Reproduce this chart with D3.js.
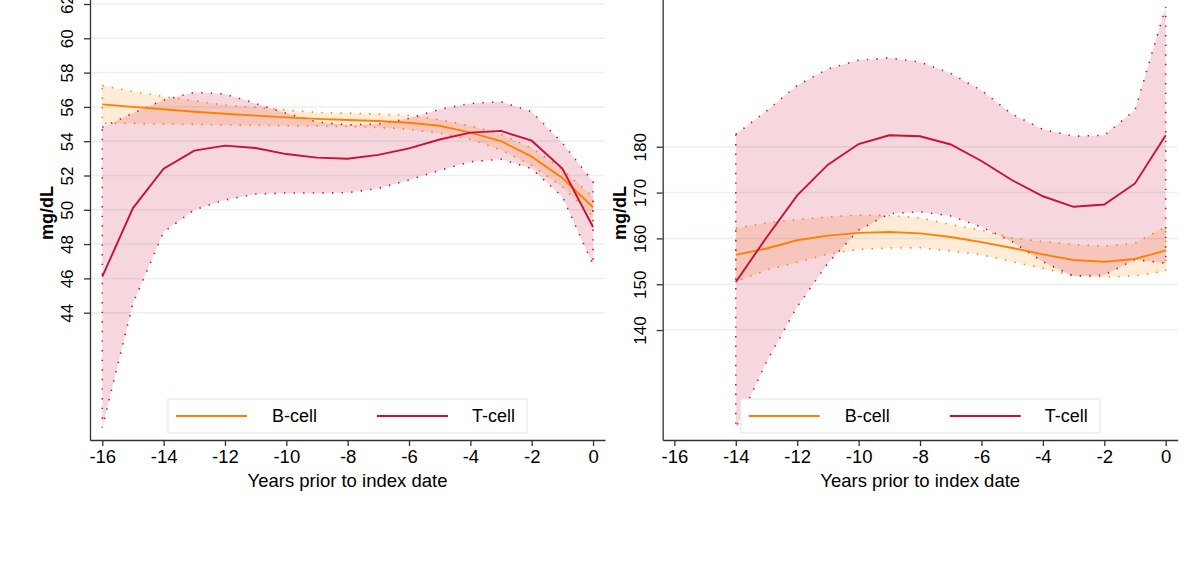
<!DOCTYPE html>
<html>
<head>
<meta charset="utf-8">
<script src="https://cdn.jsdelivr.net/npm/d3@7"></script>
<style>
  html, body { margin: 0; padding: 0; background: #fff; }
  svg { display: block; font-family: "Liberation Sans", Arial, sans-serif; }
</style>
</head>
<body>
<svg id="chart" width="1196" height="561"></svg>
<script>
// ---------- DATA ----------
const leftYears = [-16,-15,-14,-13,-12,-11,-10,-9,-8,-7,-6,-5,-4,-3,-2,-1,0];
const leftBMean = [56.15,56.0,55.86,55.72,55.6,55.49,55.39,55.3,55.24,55.18,55.08,54.9,54.5,54.0,53.1,51.85,50.15];
const leftBLow  = [55.04,55.04,55.0,54.98,54.95,54.93,54.9,54.88,54.86,54.8,54.7,54.46,54.11,53.49,52.6,51.35,49.6];
const leftBHigh = [57.24,56.89,56.6,56.36,56.1,55.98,55.82,55.68,55.63,55.58,55.5,55.25,54.9,54.4,53.6,52.35,50.75];
const leftTMean = [46.1,50.1,52.4,53.45,53.74,53.6,53.25,53.04,52.98,53.2,53.58,54.1,54.5,54.6,54.03,52.4,49.0];
const leftTLow  = [37.3,44.55,48.7,50.0,50.57,50.92,50.98,50.98,51.0,51.25,51.74,52.3,52.8,52.95,52.4,50.76,46.8];
const leftTHigh = [54.81,55.63,56.4,56.85,56.75,56.2,55.63,55.12,54.95,55.0,55.33,55.86,56.2,56.3,55.72,53.9,51.64];

const rightYears = [-14,-13,-12,-11,-10,-9,-8,-7,-6,-5,-4,-3,-2,-1,0];
const rightBMean = [156.4,157.8,159.6,160.6,161.2,161.4,161.1,160.3,159.2,157.9,156.5,155.3,154.9,155.5,157.4];
const rightBLow  = [150.6,153.1,154.8,156.6,157.6,157.9,157.95,157.3,156.4,154.9,153.5,151.8,151.6,151.8,152.9];
const rightBHigh = [162.2,163.4,164.1,164.7,165.1,165.0,164.5,163.0,161.8,160.1,159.3,158.7,158.3,159.0,162.5];
const rightTMean = [150.5,160.2,169.4,176.1,180.6,182.5,182.3,180.5,176.9,172.7,169.2,166.9,167.4,172.0,182.5];
const rightTLow  = [118.6,133.1,145.1,154.6,161.8,165.4,165.8,164.9,162.5,159.3,154.9,151.8,152.0,155.4,154.6];
const rightTHigh = [182.7,187.8,193.4,197.0,198.9,199.4,198.5,196.0,192.3,187.1,183.8,182.3,182.5,188.0,210.5];

const xTicks = [-16,-14,-12,-10,-8,-6,-4,-2,0];
const leftYTicks = [44,46,48,50,52,54,56,58,60,62];
const rightYTicks = [140,150,160,170,180];
const seriesNames = ["B-cell","T-cell"];
const xTitle = "Years prior to index date";
const yTitle = "mg/dL";

// ---------- STYLE ----------
const ORANGE = "#ff8000";
const RED = "#c8103c";
const GRID = "#e8f0f2";
const AXIS = "#333";
const FONT = 18.5;
const YFONT = 17;
const FAM = "Liberation Sans, Arial, sans-serif";

const svg = d3.select("#chart");

function panel(cfg) {
  const g = svg.append("g");
  const x = d3.scaleLinear().domain(cfg.xDomain).range([cfg.x0, cfg.x1]);
  const y = d3.scaleLinear().domain(cfg.yDomain).range([440, -20]);

  // gridlines
  g.append("g").selectAll("line").data(cfg.yTicks).join("line")
    .attr("x1", cfg.x0).attr("x2", cfg.x1)
    .attr("y1", d => y(d)).attr("y2", d => y(d))
    .attr("stroke", GRID).attr("stroke-width", 1.5);

  const rows = (years, lo, hi, m) => years.map((yr, i) => ({yr, lo: lo[i], hi: hi[i], m: m[i]}));
  const B = rows(cfg.years, cfg.bLow, cfg.bHigh, cfg.bMean);
  const T = rows(cfg.years, cfg.tLow, cfg.tHigh, cfg.tMean);

  const area = d3.area().x(d => x(d.yr)).y0(d => y(d.lo)).y1(d => y(d.hi));

  const drawBand = (data, color, op) => {
    g.append("path").attr("d", area(data))
      .attr("fill", color).attr("fill-opacity", op).attr("stroke", "none");
  };
  const drawBandEdge = (data, color) => {
    g.append("path").attr("d", area(data))
      .attr("fill", "none").attr("stroke", color).attr("stroke-width", 1.6)
      .attr("stroke-dasharray", "1.4,8.2").attr("stroke-linecap", "butt");
  };
  drawBand(B, ORANGE, 0.16);
  drawBand(T, RED, 0.17);
  drawBandEdge(B, ORANGE);
  drawBandEdge(T, RED);

  const line = d3.line().x(d => x(d.yr)).y(d => y(d.m));
  g.append("path").attr("d", line(B)).attr("fill", "none").attr("stroke", ORANGE).attr("stroke-width", 1.9);
  g.append("path").attr("d", line(T)).attr("fill", "none").attr("stroke", RED).attr("stroke-width", 1.9);

  // axes
  const xAxis = d3.axisBottom(x).tickValues(xTicks).tickSize(6).tickSizeOuter(0).tickPadding(4)
    .tickFormat(d => String(d));
  const gx = g.append("g").attr("transform", "translate(0,440)").call(xAxis);
  gx.select(".domain").attr("stroke", AXIS).attr("stroke-width", 1.3);
  gx.selectAll(".tick line").attr("stroke", AXIS).attr("stroke-width", 1.3);
  gx.selectAll(".tick text").attr("font-size", FONT).attr("fill", "#000").attr("font-family", FAM);

  const yAxis = d3.axisLeft(y).tickValues(cfg.yTicks).tickSize(6).tickSizeOuter(0).tickFormat(d => String(d));
  const gy = g.append("g").attr("transform", `translate(${cfg.x0},0)`).call(yAxis);
  gy.select(".domain").attr("stroke", AXIS).attr("stroke-width", 1.3);
  gy.selectAll(".tick line").attr("stroke", AXIS).attr("stroke-width", 1.3);
  gy.selectAll(".tick text").remove();
  gy.selectAll(".tick").append("text")
    .attr("transform", "translate(-23,0) rotate(-90)")
    .attr("text-anchor", "middle").attr("dy", "0.35em")
    .attr("font-size", YFONT).attr("fill", "#000").attr("font-family", FAM)
    .text(d => String(d));

  // titles
  const cx = (cfg.x0 + cfg.x1) / 2;
  g.append("text").attr("x", cx).attr("y", 486.5).attr("text-anchor", "middle")
    .attr("font-size", FONT).attr("fill", "#000").text(xTitle);
  g.append("text").attr("transform", `translate(${cfg.x0 - 43},213) rotate(-90)`)
    .attr("text-anchor", "middle").attr("dy", "0.35em")
    .attr("font-size", 18).attr("font-weight", "bold").attr("fill", "#000").text(yTitle);

  // legend
  const lw = 359, lh = 34;
  const lx = cx - lw / 2, ly = 399;
  const lg = g.append("g").attr("transform", `translate(${lx},${ly})`);
  lg.append("rect").attr("width", lw).attr("height", lh).attr("fill", "#fff")
    .attr("stroke", "#dcecef").attr("stroke-width", 1.2);
  const items = [{name: seriesNames[0], c: ORANGE, lx: 8, tx: 104}, {name: seriesNames[1], c: RED, lx: 209, tx: 304}];
  items.forEach(it => {
    lg.append("line").attr("x1", it.lx).attr("x2", it.lx + 71).attr("y1", lh / 2).attr("y2", lh / 2)
      .attr("stroke", it.c).attr("stroke-width", 1.9);
    lg.append("text").attr("x", it.tx).attr("y", lh / 2).attr("dy", "0.35em")
      .attr("font-size", 18).attr("fill", "#000").text(it.name);
  });
}

panel({
  x0: 90, x1: 605, xDomain: [-16.4, 0.39],
  yDomain: [36.577, 63.4], yTicks: leftYTicks,
  years: leftYears, bMean: leftBMean, bLow: leftBLow, bHigh: leftBHigh,
  tMean: leftTMean, tLow: leftTLow, tHigh: leftTHigh
});
panel({
  x0: 662.7, x1: 1177.7, xDomain: [-16.38, 0.39],
  yDomain: [116.0, 216.4], yTicks: rightYTicks,
  years: rightYears, bMean: rightBMean, bLow: rightBLow, bHigh: rightBHigh,
  tMean: rightTMean, tLow: rightTLow, tHigh: rightTHigh
});
</script>
</body>
</html>
